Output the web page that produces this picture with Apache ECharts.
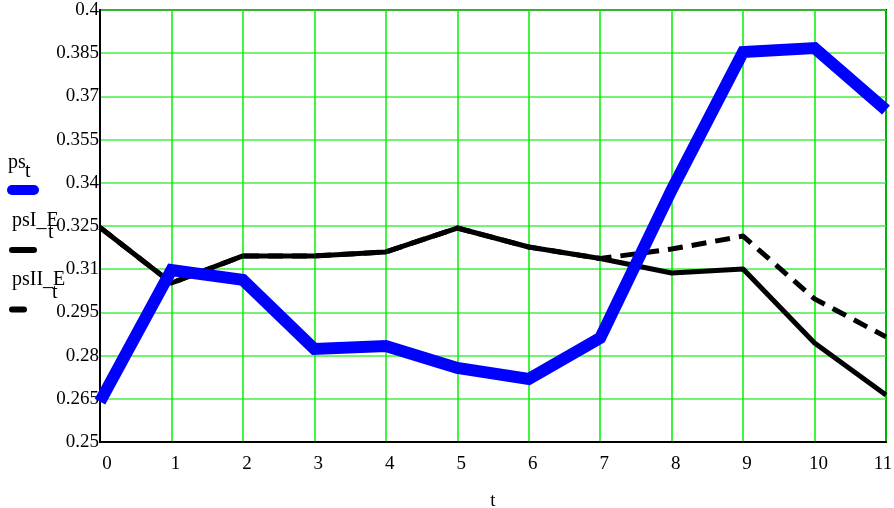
<!DOCTYPE html>
<html>
<head>
<meta charset="utf-8">
<script src="https://cdn.jsdelivr.net/npm/echarts@6/dist/echarts.min.js"></script>
<style>
  html, body { margin: 0; padding: 0; background: #fff; }
  #chart { width: 894px; height: 508px; }
</style>
</head>
<body>
<div id="chart"></div>
<script>
// time steps
const tValues = [0, 1, 2, 3, 4, 5, 6, 7, 8, 9, 10, 11];
// ps_t : observed series (thick blue)
const ps = [0.2640, 0.3097, 0.3063, 0.2823, 0.2833, 0.2757, 0.2719, 0.2861, 0.3375, 0.3854, 0.3868, 0.3653];
// psI_E_t : estimate I (solid black)
const psI_E = [0.3245, 0.3052, 0.3146, 0.3146, 0.3160, 0.3243, 0.3177, 0.3137, 0.3087, 0.3101, 0.2844, 0.2663];
// psII_E_t : estimate II (dashed black)
const psII_E = [0.3245, 0.3052, 0.3146, 0.3146, 0.3160, 0.3243, 0.3177, 0.3137, 0.3170, 0.3215, 0.2997, 0.2865];
// y tick labels
const yTicks = [0.25, 0.265, 0.28, 0.295, 0.31, 0.325, 0.34, 0.355, 0.37, 0.385, 0.4];

const FONT = 'Liberation Serif';
const pair = arr => arr.map((v, i) => [tValues[i], v]);
const tMin = tValues[0], tMax = tValues[tValues.length - 1];

const chart = echarts.init(document.getElementById('chart'), null, { renderer: 'canvas' });

chart.setOption({
  animation: false,
  backgroundColor: '#fff',
  grid: {
    left: 100, right: 8, top: 10, bottom: 66,
    containLabel: false, outerBoundsMode: 'none',
    show: true, borderColor: '#000', borderWidth: 2, backgroundColor: 'transparent'
  },
  xAxis: {
    type: 'value',
    min: tMin, max: tMax, interval: 1,
    name: 't',
    nameLocation: 'middle',
    nameGap: 50,
    nameTextStyle: { fontFamily: FONT, fontSize: 19, color: '#000' },
    axisLine: { show: true, lineStyle: { color: '#000', width: 2 } },
    axisTick: { show: false },
    axisLabel: {
      fontFamily: FONT, fontSize: 19, color: '#000',
      align: 'center', margin: 13,
      showMinLabel: true, showMaxLabel: true,
      // first label nudged inward from the left edge, last one from the right edge
      formatter: v => v === tMin ? '{f|' + v + '}' : v === tMax ? '{l|' + v + '}' : '{n|' + v + '}',
      rich: {
        n: { fontFamily: FONT, fontSize: 19, color: '#000', padding: [0, 0, 0, 8] },
        f: { fontFamily: FONT, fontSize: 19, color: '#000', padding: [0, 0, 0, 14] },
        l: { fontFamily: FONT, fontSize: 19, color: '#000', padding: [0, 6, 0, 0] }
      }
    },
    splitLine: { show: true, lineStyle: { color: '#00f000', width: 1.5 } }
  },
  yAxis: {
    type: 'value',
    min: 0.25, max: 0.4,
    axisLine: { show: true, lineStyle: { color: '#000', width: 2 } },
    axisTick: { show: false, customValues: yTicks },
    axisLabel: {
      customValues: yTicks,
      fontFamily: FONT, fontSize: 19, color: '#000',
      margin: 1, padding: [9, 0, 0, 0],
      formatter: v => String(+v.toFixed(3))
    },
    splitLine: { show: true, lineStyle: { color: '#44ee44', width: 1.5 } }
  },
  series: [
    {
      name: 'psI_E', type: 'line', data: pair(psI_E), showSymbol: false, z: 3,
      lineStyle: { color: '#000', width: 5, join: 'round' }
    },
    {
      name: 'psII_E', type: 'line', data: pair(psII_E), showSymbol: false, z: 2,
      lineStyle: { color: '#000', width: 5, type: [15, 9], join: 'round' }
    },
    {
      name: 'ps', type: 'line', data: pair(ps), showSymbol: false, z: 4,
      lineStyle: { color: '#0000ff', width: 12, join: 'miter' }
    }
  ],
  graphic: [
    // legend: ps_t
    { type: 'text', left: 8, top: 153, style: { text: 'ps', font: '20px ' + FONT, fill: '#000' } },
    { type: 'text', left: 25, top: 162, style: { text: 't', font: '20px ' + FONT, fill: '#000' } },
    { type: 'line', shape: { x1: 12, y1: 190, x2: 34, y2: 190 }, style: { stroke: '#0000ff', lineWidth: 10, lineCap: 'round' } },
    // legend: psI_E_t
    { type: 'text', left: 12, top: 211, style: { text: 'psI_E', font: '20px ' + FONT, fill: '#000' } },
    { type: 'text', left: 48, top: 223, style: { text: 't', font: '20px ' + FONT, fill: '#000' } },
    { type: 'line', shape: { x1: 12, y1: 250, x2: 34, y2: 250 }, style: { stroke: '#000', lineWidth: 6, lineCap: 'round' } },
    // legend: psII_E_t
    { type: 'text', left: 12, top: 270, style: { text: 'psII_E', font: '20px ' + FONT, fill: '#000' } },
    { type: 'text', left: 52, top: 283, style: { text: 't', font: '20px ' + FONT, fill: '#000' } },
    { type: 'line', shape: { x1: 12, y1: 309.5, x2: 24, y2: 309.5 }, style: { stroke: '#000', lineWidth: 6, lineCap: 'round' } }
  ]
});
</script>
</body>
</html>
